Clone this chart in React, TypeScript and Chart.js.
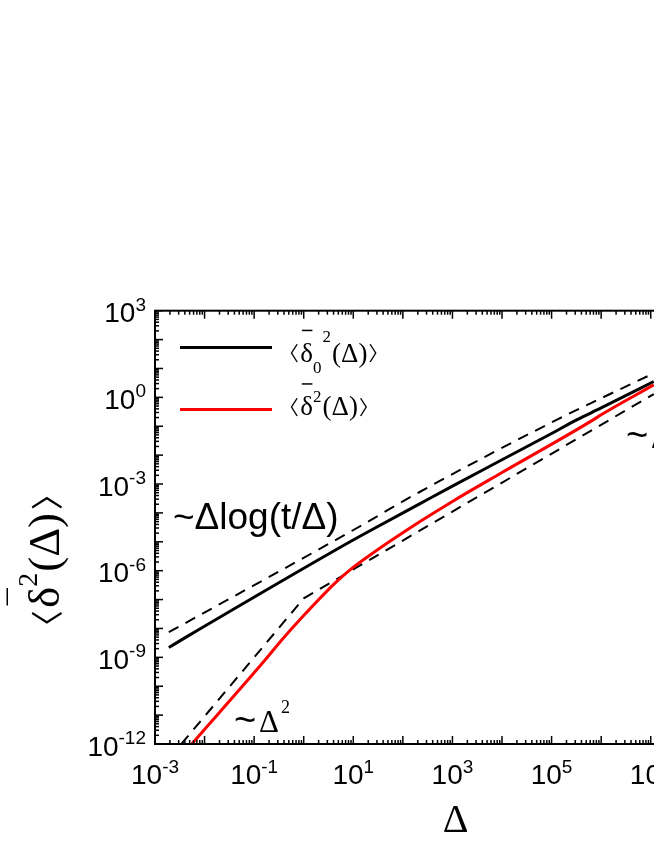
import React, { useEffect, useRef } from 'react';
import { Chart, registerables } from 'chart.js';

Chart.register(...registerables);

// ---- data ----
const BLACK_X = [1.9e-3, 4.4e-3, 8.6, 27.5, 222, 1e3, 1e4, 1e5, 3.2e5, 1e6, 1.15e7];
const BLACK_Y = [2.2e-9, 5.2e-9, 1.0e-5, 3.0e-5, 2.1e-4, 8.5e-4, 6.9e-3, 5.6e-2, 0.166, 0.43, 3.55];

const RED_X = [5.5e-3, 0.166, 0.36, 1.0, 4.27, 8.6, 27.5, 222, 1e3, 1e4, 6.9e5, 1e6, 1.15e7];
const RED_Y = [1e-12, 8.1e-10, 4.0e-9, 2.8e-8, 3.7e-7, 1.07e-6, 4.6e-6, 5.0e-5, 2.5e-4, 2.5e-3, 0.166, 0.25, 2.7];

const UPPER_DASH_X = [1.9e-3, 8.6, 222, 1.26e5, 1e6, 1.15e7];
const UPPER_DASH_Y = [7.4e-9, 2.2e-5, 5.4e-4, 0.166, 0.93, 6.8];

const LOWER_DASH_X = [3.4e-3, 1.0, 1.15e7];
const LOWER_DASH_Y = [1e-12, 1.1e-7, 1.3];

const X_MIN_EXP = -3;
const X_MAX_EXP = 8;
const Y_MIN_EXP = -12;
const Y_MAX_EXP = 3;
const X_LABEL_EXPS = [-3, -1, 1, 3, 5, 7];
const Y_LABEL_EXPS = [3, 0, -3, -6, -9, -12];

const SANS = "'Liberation Sans', Arial, sans-serif";
const SERIF = "'Liberation Serif', 'Times New Roman', 'DejaVu Serif', serif";
const CJK = "'Noto Sans CJK JP', 'Noto Sans CJK SC', 'DejaVu Serif', serif";

const W = 760;
const H = 846;

type Run = { t: string; font: string; dy?: number; dx?: number; bar?: number; ink?: { h: number; bottom: number; pad: number } };

function inkFont(ctx: CanvasRenderingContext2D, t: string, h: number) {
  ctx.font = `100px ${CJK}`;
  const m = ctx.measureText(t);
  const ih = m.actualBoundingBoxAscent + m.actualBoundingBoxDescent || 90;
  return (100 * h) / ih;
}

function runAdvance(ctx: CanvasRenderingContext2D, r: Run) {
  if (r.ink) {
    const size = inkFont(ctx, r.t, r.ink.h);
    ctx.font = `${size}px ${CJK}`;
    const m = ctx.measureText(r.t);
    return (r.dx || 0) + m.actualBoundingBoxLeft + m.actualBoundingBoxRight + 2 * r.ink.pad;
  }
  ctx.font = r.font;
  return (r.dx || 0) + ctx.measureText(r.t).width;
}

function runsWidth(ctx: CanvasRenderingContext2D, runs: Run[]) {
  let w = 0;
  for (const r of runs) w += runAdvance(ctx, r);
  return w;
}

function drawRuns(ctx: CanvasRenderingContext2D, runs: Run[], x: number, y: number) {
  let cx = x;
  for (const r of runs) {
    cx += r.dx || 0;
    if (r.ink) {
      const size = inkFont(ctx, r.t, r.ink.h);
      ctx.font = `${size}px ${CJK}`;
      const m = ctx.measureText(r.t);
      const inkW = m.actualBoundingBoxLeft + m.actualBoundingBoxRight;
      const drawX = cx + r.ink.pad + m.actualBoundingBoxLeft;
      const drawY = y + r.ink.bottom - m.actualBoundingBoxDescent;
      ctx.fillText(r.t, drawX, drawY);
      cx += inkW + 2 * r.ink.pad;
      continue;
    }
    ctx.font = r.font;
    ctx.fillText(r.t, cx, y + (r.dy || 0));
    const w = ctx.measureText(r.t).width;
    if (r.bar !== undefined) {
      ctx.save();
      ctx.lineWidth = 1.5;
      ctx.beginPath();
      ctx.moveTo(cx + w * 0.12, y + r.bar);
      ctx.lineTo(cx + w * 0.95, y + r.bar);
      ctx.stroke();
      ctx.restore();
    }
    cx += w;
  }
  return cx - x;
}

function line(ctx: CanvasRenderingContext2D, x1: number, y1: number, x2: number, y2: number) {
  ctx.beginPath();
  ctx.moveTo(x1, y1);
  ctx.lineTo(x2, y2);
  ctx.stroke();
}

function mathRuns(size: number, withSub: boolean): Run[] {
  const F = `${size}px ${SERIF}`;
  const S = `${Math.round(size * 0.63)}px ${SERIF}`;
  const ink = { h: size * 0.68, bottom: size * 0.07, pad: size * 0.08 };
  const runs: Run[] = [{ t: '\u3008', font: F, ink }, { t: '\u03B4', font: F, bar: -size * 1.15 }];
  if (withSub) {
    runs.push({ t: '0', font: S, dy: size * 0.43 });
    runs.push({ t: '2', font: S, dy: -size * 0.74, dx: 1 });
  } else {
    runs.push({ t: '2', font: S, dy: -size * 0.5 });
  }
  runs.push({ t: '(\u0394)', font: F, dx: 1 });
  runs.push({ t: '\u3009', font: F, ink });
  return runs;
}

const framePlugin = {
  id: 'originFrame',
  afterDraw(chart: any) {
    const ctx: CanvasRenderingContext2D = chart.ctx;
    const xs = chart.scales.x;
    const ys = chart.scales.y;
    const { left, right, top, bottom } = chart.chartArea;
    ctx.save();
    ctx.fillStyle = '#000';
    ctx.strokeStyle = '#000';

    // ticks
    ctx.lineWidth = 1.5;
    for (let e = X_MIN_EXP; e <= X_MAX_EXP; e++) {
      for (let m = 1; m <= 9; m++) {
        if (e === X_MAX_EXP && m > 1) break;
        const px = xs.getPixelForValue(m * Math.pow(10, e));
        const len = m === 1 ? 8 : 4;
        line(ctx, px, bottom, px, bottom - len);
        line(ctx, px, top, px, top + len);
      }
    }
    for (let e = Y_MIN_EXP; e <= Y_MAX_EXP; e++) {
      for (let m = 1; m <= 9; m++) {
        if (e === Y_MAX_EXP && m > 1) break;
        const py = ys.getPixelForValue(m * Math.pow(10, e));
        const len = m === 1 ? 8 : 4;
        line(ctx, left, py, left + len, py);
        line(ctx, right, py, right - len, py);
      }
    }
    // frame
    ctx.lineWidth = 2;
    ctx.strokeRect(left, top, right - left, bottom - top);

    // tick labels
    ctx.textBaseline = 'alphabetic';
    ctx.textAlign = 'left';
    const baseFont = `28px ${SANS}`;
    const expFont = `19px ${SANS}`;
    for (const e of X_LABEL_EXPS) {
      const px = xs.getPixelForValue(Math.pow(10, e));
      const runs: Run[] = [
        { t: '10', font: baseFont },
        { t: String(e), font: expFont, dy: -11.5 },
      ];
      const w = runsWidth(ctx, runs);
      drawRuns(ctx, runs, px - w / 2, 784);
    }
    for (const e of Y_LABEL_EXPS) {
      const py = ys.getPixelForValue(Math.pow(10, e));
      const runs: Run[] = [
        { t: '10', font: baseFont },
        { t: String(e), font: expFont, dy: -11.5 },
      ];
      const w = runsWidth(ctx, runs);
      drawRuns(ctx, runs, 146 - w, py + 11.5);
    }

    // axis titles
    ctx.font = `40px ${SERIF}`;
    ctx.textAlign = 'center';
    ctx.fillText('\u0394', 455.5, 832);
    ctx.textAlign = 'left';

    const yTitle = mathRuns(45, false);
    const tw = runsWidth(ctx, yTitle);
    ctx.save();
    ctx.translate(59, 560 + tw / 2);
    ctx.rotate(-Math.PI / 2);
    drawRuns(ctx, yTitle, 0, 0);
    ctx.restore();

    // annotations
    ctx.font = `37px ${SANS}`;
    ctx.fillText('~\u0394log(t/\u0394)', 173, 529);

    ctx.font = `38px ${SANS}`;
    ctx.fillText('~', 234, 733);
    ctx.font = `31px ${SERIF}`;
    ctx.fillText('\u0394', 259, 731.5);
    ctx.font = `18px ${SERIF}`;
    ctx.fillText('2', 281, 713);

    ctx.font = `38px ${SANS}`;
    ctx.fillText('~', 626, 448);
    ctx.font = `31px ${SERIF}`;
    ctx.fillText('\u0394', 651, 448);

    // legend
    ctx.lineWidth = 3;
    ctx.strokeStyle = '#000';
    line(ctx, 180, 347.5, 272, 347.5);
    ctx.strokeStyle = '#ff0000';
    line(ctx, 180, 409.5, 272, 409.5);
    ctx.strokeStyle = '#000';

    drawRuns(ctx, mathRuns(27, true), 288, 361.5);
    drawRuns(ctx, mathRuns(27, false), 288, 415);

    ctx.restore();
  },
};

function pts(xs: number[], ys: number[]) {
  return xs.map((x, i) => ({ x, y: ys[i] }));
}

export default function App() {
  const ref = useRef<HTMLCanvasElement | null>(null);
  useEffect(() => {
    if (!ref.current) return;
    const chart = new Chart(ref.current, {
      type: 'line',
      data: {
        datasets: [
          {
            data: pts(RED_X, RED_Y),
            borderColor: '#ff0000',
            borderWidth: 3,
            pointRadius: 0,
            cubicInterpolationMode: 'monotone',
            fill: false,
            clip: 0,
          },
          {
            data: pts(BLACK_X, BLACK_Y),
            borderColor: '#000000',
            borderWidth: 3,
            pointRadius: 0,
            cubicInterpolationMode: 'monotone',
            fill: false,
            clip: 0,
          },
          {
            data: pts(UPPER_DASH_X, UPPER_DASH_Y),
            borderColor: '#000000',
            borderWidth: 2,
            borderDash: [11, 8],
            pointRadius: 0,
            cubicInterpolationMode: 'monotone',
            fill: false,
            clip: 0,
          },
          {
            data: pts(LOWER_DASH_X, LOWER_DASH_Y),
            borderColor: '#000000',
            borderWidth: 2,
            borderDash: [11, 8],
            pointRadius: 0,
            tension: 0,
            fill: false,
            clip: 0,
          },
        ],
      } as any,
      options: {
        animation: false,
        responsive: false,
        events: [],
        layout: { padding: { left: 155, top: 310.7, right: W - 700.3, bottom: 102 } },
        scales: {
          x: { type: 'logarithmic', min: Math.pow(10, X_MIN_EXP), max: Math.pow(10, X_MAX_EXP), display: false },
          y: { type: 'logarithmic', min: Math.pow(10, Y_MIN_EXP), max: Math.pow(10, Y_MAX_EXP), display: false },
        },
        plugins: { legend: { display: false }, tooltip: { enabled: false } },
      } as any,
      plugins: [framePlugin],
    });
    return () => chart.destroy();
  }, []);
  return (
    <div
      style={{
        position: 'absolute',
        left: 0,
        top: 0,
        width: 654,
        height: 846,
        overflow: 'hidden',
        background: '#fff',
      }}
    >
      <canvas ref={ref} width={W} height={H} style={{ width: W, height: H, display: 'block' }} />
    </div>
  );
}
